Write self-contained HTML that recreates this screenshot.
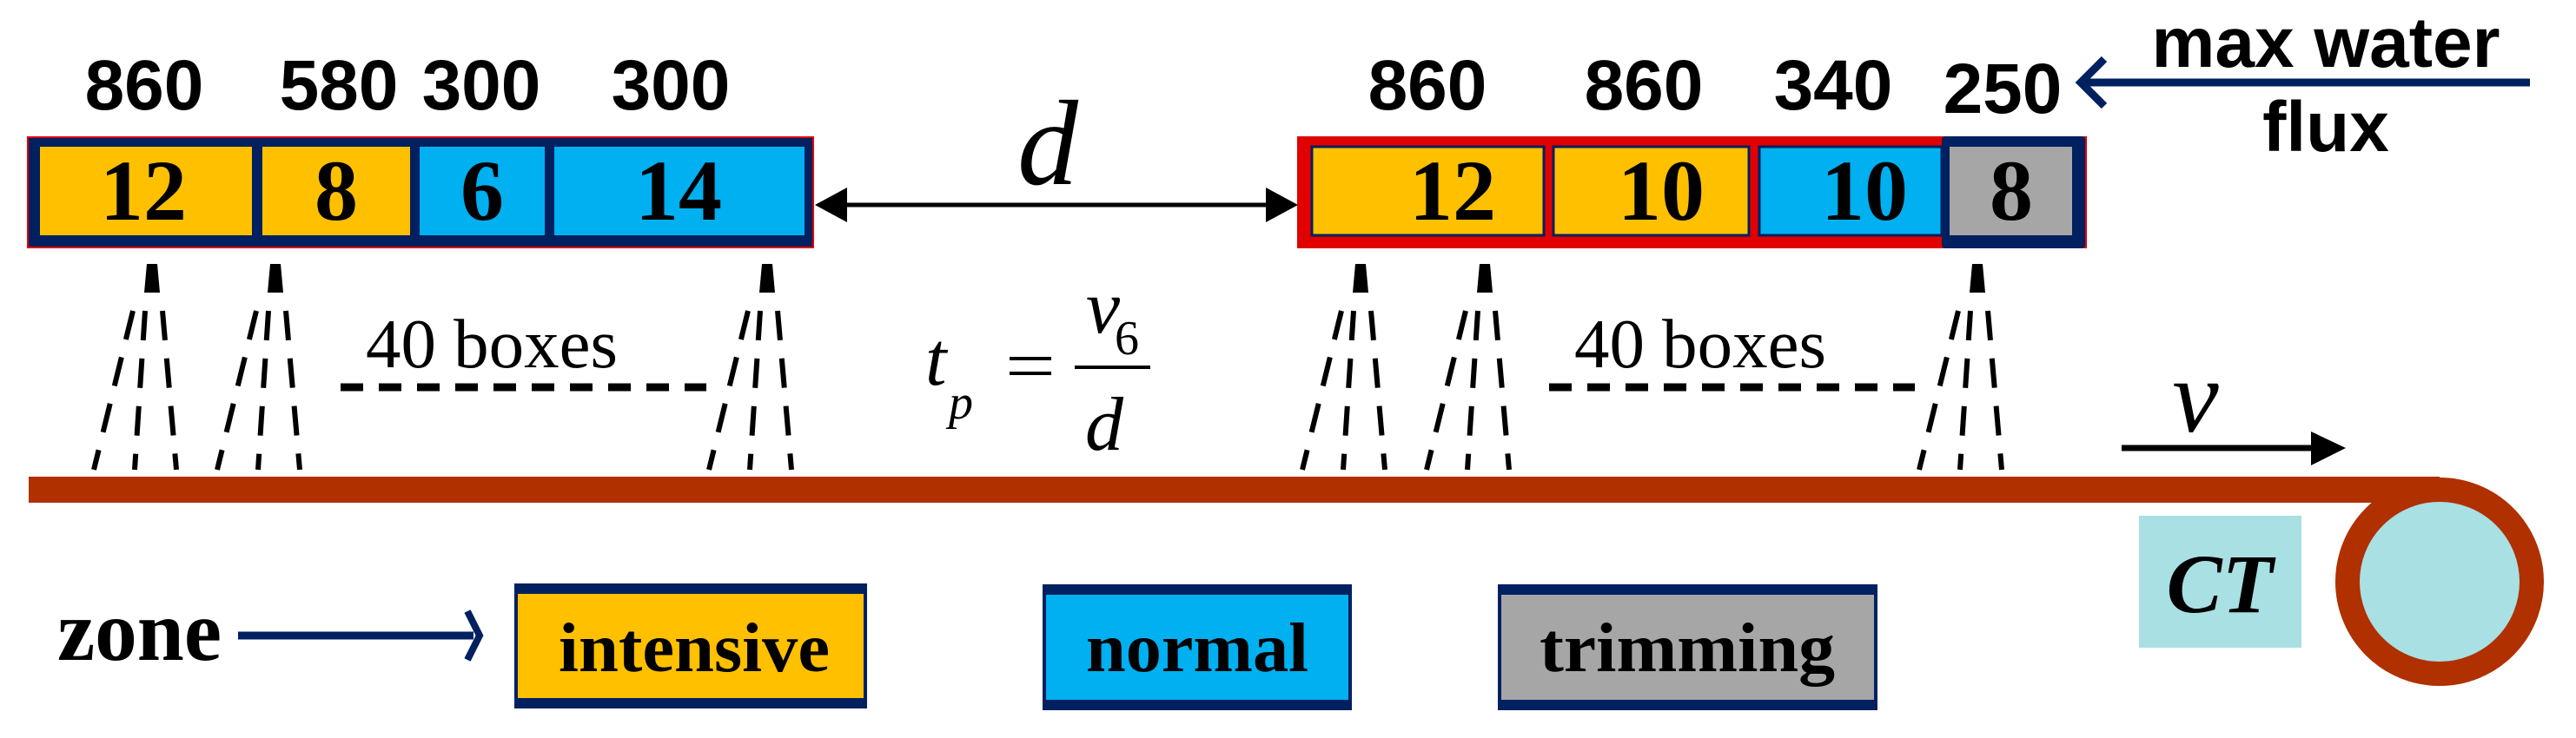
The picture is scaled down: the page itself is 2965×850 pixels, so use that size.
<!DOCTYPE html>
<html><head><meta charset="utf-8"><style>html,body{margin:0;padding:0;background:#fff}svg{display:block}</style></head>
<body>
<svg width="2965" height="850" viewBox="0 0 2965 850" xmlns="http://www.w3.org/2000/svg">
<defs>
<g id="spray">
<polygon points="-6,304 6,304 9,337 -9,337" fill="#000"/>
<g stroke="#000" stroke-width="6" stroke-dasharray="34 21" fill="none">
<line x1="-22" y1="358" x2="-67" y2="541"/>
<line x1="-8" y1="358" x2="-20" y2="541"/>
<line x1="12" y1="358" x2="28" y2="541"/>
</g>
</g>
</defs>

<g font-family="Liberation Sans, sans-serif" font-weight="bold" font-size="82" text-anchor="middle" fill="#000">
<text x="166" y="126">860</text>
<text x="390" y="126">580</text>
<text x="554" y="126">300</text>
<text x="772" y="126">300</text>
<text x="1643" y="126">860</text>
<text x="1892" y="126">860</text>
<text x="2110" y="126">340</text>
<text x="2305" y="130">250</text>
<text x="2677" y="77">max water</text>
<text x="2677" y="174">flux</text>
</g>

<line x1="2400" y1="95" x2="2912" y2="95" stroke="#002060" stroke-width="9"/>
<polyline points="2422,68 2395,95 2422,122" fill="none" stroke="#002060" stroke-width="9"/>

<rect x="31" y="157" width="906" height="129" fill="#e00000"/>
<rect x="33" y="159" width="902" height="125" fill="#002060"/>
<rect x="46" y="169" width="244" height="102" fill="#ffc000"/>
<rect x="302" y="169" width="170" height="102" fill="#ffc000"/>
<rect x="483" y="169" width="144" height="102" fill="#00b0f0"/>
<rect x="638" y="169" width="288" height="102" fill="#00b0f0"/>

<rect x="1493" y="157" width="909" height="129" fill="#e00000"/>
<rect x="1510" y="169" width="267" height="102" fill="#ffc000" stroke="#002060" stroke-width="3"/>
<rect x="1788" y="169" width="225" height="102" fill="#ffc000" stroke="#002060" stroke-width="3"/>
<rect x="2025" y="169" width="210" height="102" fill="#00b0f0" stroke="#002060" stroke-width="3"/>
<rect x="2235" y="157" width="165" height="129" rx="4" fill="#002060"/>
<rect x="2244" y="169" width="141" height="102" fill="#a6a6a6"/>

<g font-family="Liberation Serif, serif" font-weight="bold" font-size="100" text-anchor="middle" fill="#000">
<text x="165" y="253">12</text>
<text x="387" y="253">8</text>
<text x="555" y="253">6</text>
<text x="781" y="253">14</text>
<text x="1672" y="253">12</text>
<text x="1912" y="253">10</text>
<text x="2146" y="253">10</text>
<text x="2315" y="253">8</text>
</g>

<line x1="970" y1="236" x2="1462" y2="236" stroke="#000" stroke-width="5"/>
<polygon points="938,236 975,216 975,256" fill="#000"/>
<polygon points="1494,236 1457,216 1457,256" fill="#000"/>
<text x="1206" y="212" font-family="Liberation Serif, serif" font-style="italic" font-size="140" text-anchor="middle">d</text>

<g font-family="Liberation Serif, serif" font-style="italic" fill="#000">
<text x="1065" y="443" font-size="88">t</text>
<text x="1092" y="482" font-size="56">p</text>
<text x="1250" y="383" font-size="88">v</text>
<text x="1249" y="518" font-size="88">d</text>
</g>
<text x="1283" y="408" font-family="Liberation Serif, serif" font-size="56">6</text>
<rect x="1162" y="411" width="48" height="4" fill="#000"/>
<rect x="1162" y="428" width="48" height="4" fill="#000"/>
<rect x="1237" y="421" width="87" height="4" fill="#000"/>

<use href="#spray" x="175"/>
<use href="#spray" x="317"/>
<use href="#spray" x="883"/>
<use href="#spray" x="1566"/>
<use href="#spray" x="1709"/>
<use href="#spray" x="2276"/>

<g font-family="Liberation Serif, serif" font-size="80" fill="#000">
<text x="421" y="423" textLength="290" lengthAdjust="spacingAndGlyphs">40 boxes</text>
<text x="1812" y="423" textLength="290" lengthAdjust="spacingAndGlyphs">40 boxes</text>
</g>
<line x1="392" y1="446" x2="813" y2="446" stroke="#000" stroke-width="9" stroke-dasharray="26 18"/>
<line x1="1783" y1="446" x2="2204" y2="446" stroke="#000" stroke-width="9" stroke-dasharray="26 18"/>

<line x1="2442" y1="516" x2="2665" y2="516" stroke="#000" stroke-width="7"/>
<polygon points="2700,516 2660,497 2660,536" fill="#000"/>
<text x="2527" y="497" font-family="Liberation Serif, serif" font-style="italic" font-size="120" text-anchor="middle">v</text>

<rect x="33" y="549" width="2775" height="30" fill="#b03000"/>
<circle cx="2808" cy="670" r="106" fill="#a8e0e4" stroke="#b03000" stroke-width="28"/>

<rect x="2462" y="594" width="187" height="152" fill="#a8e0e4"/>
<text x="2555" y="705" font-family="Liberation Serif, serif" font-style="italic" font-weight="bold" font-size="96" text-anchor="middle">CT</text>

<text x="66" y="760" font-family="Liberation Serif, serif" font-weight="bold" font-size="100" textLength="189" lengthAdjust="spacingAndGlyphs">zone</text>
<line x1="274" y1="732" x2="545" y2="732" stroke="#002060" stroke-width="9"/>
<polyline points="538,704 552,732 538,760" fill="none" stroke="#002060" stroke-width="8"/>

<rect x="592" y="672" width="406" height="144" fill="#002060"/>
<rect x="596" y="684" width="398" height="120" fill="#ffc000"/>
<rect x="1200" y="673" width="356" height="145" fill="#002060"/>
<rect x="1204" y="685" width="348" height="121" fill="#00b0f0"/>
<rect x="1724" y="673" width="437" height="145" fill="#002060"/>
<rect x="1728" y="685" width="429" height="121" fill="#a6a6a6"/>
<g font-family="Liberation Serif, serif" font-weight="bold" font-size="80" text-anchor="middle" fill="#000">
<text x="799" y="773" textLength="312" lengthAdjust="spacingAndGlyphs">intensive</text>
<text x="1378" y="773" textLength="256" lengthAdjust="spacingAndGlyphs">normal</text>
<text x="1942" y="773" textLength="340" lengthAdjust="spacingAndGlyphs">trimming</text>
</g>
</svg>
</body></html>
